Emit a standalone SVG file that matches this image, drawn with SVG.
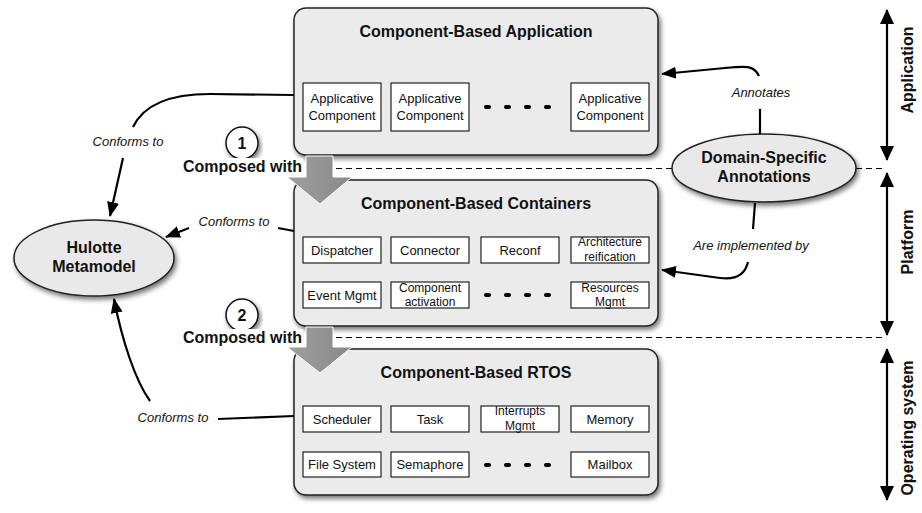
<svg xmlns="http://www.w3.org/2000/svg" width="922" height="513" viewBox="0 0 922 513">
<defs>
<filter id="sh" x="-10%" y="-10%" width="125%" height="130%">
<feDropShadow dx="2" dy="3" stdDeviation="2.5" flood-color="#000" flood-opacity="0.55"/>
</filter>
<marker id="ah" markerUnits="userSpaceOnUse" markerWidth="16" markerHeight="12" refX="14" refY="6" orient="auto">
<path d="M0,0 L15,6 L0,12 z" fill="#000"/>
</marker>
<marker id="ahs" markerUnits="userSpaceOnUse" markerWidth="16" markerHeight="14" refX="14" refY="7" orient="auto-start-reverse">
<path d="M0,0 L15,7 L0,14 z" fill="#000"/>
</marker>
<linearGradient id="ga" x1="0" y1="0" x2="1" y2="0">
<stop offset="0" stop-color="#a0a0a0"/><stop offset="1" stop-color="#888"/>
</linearGradient>
</defs>
<style>
.big{fill:#ebebeb;stroke:#222;stroke-width:1.5;filter:url(#sh)}
.box{fill:#fff;stroke:#222;stroke-width:1.2}
.t{font-family:"Liberation Sans",Arial,sans-serif;font-size:13px;text-anchor:middle;fill:#111}
.ts{font-family:"Liberation Sans",Arial,sans-serif;font-size:12px;text-anchor:middle;fill:#111}
.title{font-family:"Liberation Sans",Arial,sans-serif;font-size:16px;font-weight:bold;text-anchor:middle;fill:#111}
.lab{font-family:"Liberation Sans",Arial,sans-serif;font-size:13px;font-style:italic;text-anchor:middle;fill:#111}
.side{font-family:"Liberation Sans",Arial,sans-serif;font-size:16px;font-weight:bold;text-anchor:middle;fill:#111}
.ell{fill:#e9e9e9;stroke:#222;stroke-width:1.5;filter:url(#sh)}
.ln{fill:none;stroke:#000;stroke-width:2.2}
.dash{fill:none;stroke:#000;stroke-width:1;stroke-dasharray:6,4}
.dot{stroke:#000;stroke-width:4;stroke-linecap:round}
.garrow{fill:url(#ga);stroke:#fff;stroke-width:1}
</style>

<g id="dashed-lines">
<line class="dash" x1="336" y1="168.5" x2="673" y2="168.5"/>
<line class="dash" x1="856" y1="168.5" x2="884" y2="168.5"/>
<line class="dash" x1="336" y1="337.5" x2="884" y2="337.5"/>
</g>

<g id="application">
<rect class="big" x="294" y="8" width="364" height="147" rx="12"/>
<text class="title" x="476" y="37">Component-Based Application</text>
<rect class="box" x="303" y="83" width="78" height="48"/>
<text class="t" x="342" y="103">Applicative</text><text class="t" x="342" y="120">Component</text>
<rect class="box" x="391" y="83" width="78" height="48"/>
<text class="t" x="430" y="103">Applicative</text><text class="t" x="430" y="120">Component</text>
<line class="dot" x1="486" y1="107" x2="489" y2="107"/><line class="dot" x1="506" y1="107" x2="509" y2="107"/><line class="dot" x1="526" y1="107" x2="529" y2="107"/><line class="dot" x1="546" y1="107" x2="549" y2="107"/>
<rect class="box" x="571" y="83" width="78" height="48"/>
<text class="t" x="610" y="103">Applicative</text><text class="t" x="610" y="120">Component</text>
</g>

<g id="containers">
<rect class="big" x="294" y="180" width="364" height="146" rx="12"/>
<text class="title" x="476" y="209">Component-Based Containers</text>
<rect class="box" x="303" y="237" width="78" height="26"/><text class="t" x="342" y="255">Dispatcher</text>
<rect class="box" x="391" y="237" width="78" height="26"/><text class="t" x="430" y="255">Connector</text>
<rect class="box" x="481" y="237" width="78" height="26"/><text class="t" x="520" y="255">Reconf</text>
<rect class="box" x="571" y="237" width="78" height="26"/><text class="ts" x="610" y="246">Architecture</text><text class="ts" x="610" y="261">reification</text>
<rect class="box" x="303" y="282" width="78" height="26"/><text class="t" x="342" y="300">Event Mgmt</text>
<rect class="box" x="391" y="282" width="78" height="26"/><text class="ts" x="430" y="292">Component</text><text class="ts" x="430" y="306">activation</text>
<line class="dot" x1="486" y1="295" x2="489" y2="295"/><line class="dot" x1="506" y1="295" x2="509" y2="295"/><line class="dot" x1="526" y1="295" x2="529" y2="295"/><line class="dot" x1="546" y1="295" x2="549" y2="295"/>
<rect class="box" x="571" y="282" width="78" height="26"/><text class="ts" x="610" y="292">Resources</text><text class="ts" x="610" y="306">Mgmt</text>
</g>

<g id="rtos">
<rect class="big" x="294" y="349" width="364" height="146" rx="12"/>
<text class="title" x="476" y="378">Component-Based RTOS</text>
<rect class="box" x="303" y="406" width="78" height="26"/><text class="t" x="342" y="424">Scheduler</text>
<rect class="box" x="391" y="406" width="78" height="26"/><text class="t" x="430" y="424">Task</text>
<rect class="box" x="481" y="406" width="78" height="26"/><text class="ts" x="520" y="415">Interrupts</text><text class="ts" x="520" y="430">Mgmt</text>
<rect class="box" x="571" y="406" width="78" height="26"/><text class="t" x="610" y="424">Memory</text>
<rect class="box" x="303" y="452" width="78" height="25"/><text class="t" x="342" y="469">File System</text>
<rect class="box" x="391" y="452" width="78" height="25"/><text class="t" x="430" y="469">Semaphore</text>
<line class="dot" x1="486" y1="465" x2="489" y2="465"/><line class="dot" x1="506" y1="465" x2="509" y2="465"/><line class="dot" x1="526" y1="465" x2="529" y2="465"/><line class="dot" x1="546" y1="465" x2="549" y2="465"/>
<rect class="box" x="571" y="452" width="78" height="25"/><text class="t" x="610" y="469">Mailbox</text>
</g>

<g id="compose1">
<polygon class="garrow" points="306,156 333,156 333,177 352,177 320,204 287,177 306,177"/>
<circle cx="242" cy="143" r="16" fill="#fff" stroke="#111" stroke-width="1.5" filter="url(#sh)"/>
<text class="title" x="242" y="149">1</text>
<rect x="181" y="158" width="122" height="18" fill="#fff"/>
<text class="title" x="302" y="172" style="text-anchor:end">Composed with</text>
</g>

<g id="compose2">
<polygon class="garrow" points="306,327 333,327 333,347 352,347 320,373 287,347 306,347"/>
<circle cx="242" cy="315" r="16" fill="#fff" stroke="#111" stroke-width="1.5" filter="url(#sh)"/>
<text class="title" x="242" y="321">2</text>
<rect x="181" y="329" width="122" height="18" fill="#fff"/>
<text class="title" x="302" y="343" style="text-anchor:end">Composed with</text>
</g>

<g id="hulotte">
<ellipse class="ell" cx="94" cy="258" rx="80" ry="38"/>
<text class="title" x="94" y="253">Hulotte</text>
<text class="title" x="94" y="272">Metamodel</text>
</g>

<g id="dsa">
<ellipse class="ell" cx="764" cy="168" rx="92" ry="34"/>
<text class="title" x="764" y="163">Domain-Specific</text>
<text class="title" x="764" y="182">Annotations</text>
</g>

<g id="connectors">
<path class="ln" d="M294,95 L210,94 C168,94 143,106 133,127"/>
<path class="ln" d="M123,158 L110,216" marker-end="url(#ah)"/>
<path class="ln" d="M294,231 L278,228"/>
<path class="ln" d="M189,228 L166,237" marker-end="url(#ah)"/>
<path class="ln" d="M294,416 L218,419"/>
<path class="ln" d="M150,401 C135,380 122,340 114,299" marker-end="url(#ah)"/>
<path class="ln" d="M760,134 L760,109"/>
<path class="ln" d="M759,76 C754,65 745,66 725,68 L662,74" marker-end="url(#ah)"/>
<path class="ln" d="M755,203 L753,229"/>
<path class="ln" d="M748,262 C745,275 735,280 720,278 L662,270" marker-end="url(#ah)"/>
<path class="ln" d="M887,10 L887,160" marker-start="url(#ahs)" marker-end="url(#ahs)"/>
<path class="ln" d="M887,173 L887,335" marker-start="url(#ahs)" marker-end="url(#ahs)"/>
<path class="ln" d="M887,349 L887,500" marker-start="url(#ahs)" marker-end="url(#ahs)"/>
</g>

<g id="labels">
<text class="lab" x="128" y="146">Conforms to</text>
<text class="lab" x="234" y="226">Conforms to</text>
<text class="lab" x="173" y="422">Conforms to</text>
<text class="lab" x="761" y="97">Annotates</text>
<text class="lab" x="751" y="250">Are implemented by</text>
<text class="side" transform="translate(913,70) rotate(-90)">Application</text>
<text class="side" transform="translate(913,242) rotate(-90)">Platform</text>
<text class="side" transform="translate(913,428) rotate(-90)">Operating system</text>
</g>
</svg>
